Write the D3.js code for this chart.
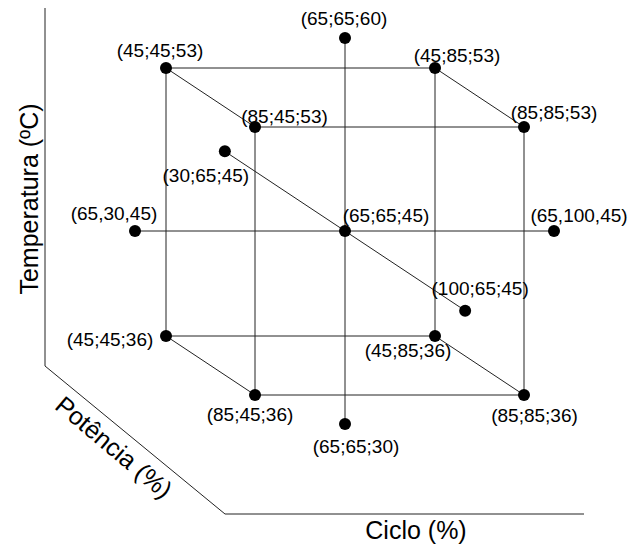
<!DOCTYPE html>
<html>
<head>
<meta charset="utf-8">
<script src="https://cdn.jsdelivr.net/npm/d3@7"></script>
<style>
  html, body { margin: 0; padding: 0; background: #fff; }
  svg { display: block; }
  text { font-family: "Liberation Sans", Arial, sans-serif; fill: #000; }
</style>
</head>
<body>
<svg id="chart" width="628" height="547"></svg>
<script>
// ---- data: experimental design points (Potência ; Ciclo ; Temperatura)
const potencia    = [45, 85, 45, 85, 45, 85, 45, 85, 65, 65, 65, 30, 100, 65, 65];
const ciclo       = [45, 45, 85, 85, 45, 45, 85, 85, 65, 30, 100, 65, 65, 65, 65];
const temperatura = [53, 53, 53, 53, 36, 36, 36, 36, 45, 45, 45, 45, 45, 60, 30];
const pointLabels = ["(45;45;53)", "(85;45;53)", "(45;85;53)", "(85;85;53)",
                     "(45;45;36)", "(85;45;36)", "(45;85;36)", "(85;85;36)",
                     "(65;65;45)", "(65,30,45)", "(65,100,45)", "(30;65;45)",
                     "(100;65;45)", "(65;65;60)", "(65;65;30)"];
// level sets (star, cube, center)
const potenciaLevels    = [30, 45, 65, 85, 100];
const cicloLevels       = [30, 45, 65, 85, 100];
const temperaturaLevels = [30, 36, 45, 53, 60];
const axisTitles = { x: "Ciclo (%)", y: "Temperatura (ºC)", z: "Potência (%)" };

// ---- layout (schematic projection)
const labelOffsets = [
  [-6, -11], [29.5, -4], [22, -6], [30, -8],
  [-56, 10], [-5, 26], [-27, 21], [10.5, 27],
  [41, -9], [-21, -11], [25, -9], [-19, 31],
  [15, -16], [-1, -13], [11, 29]
];

const svg = d3.select("#chart");

const xCiclo = d3.scaleLinear().domain(cicloLevels).range([135, 210.5, 345, 479.5, 554]);
const yTemp  = d3.scaleLinear().domain(temperaturaLevels).range([424, 365.5, 231, 97.5, 38]);
const tPot   = d3.scaleLinear().domain(potenciaLevels).range([-2.7, -1, 0, 1, 2.7]);
const diag = [44.5, 29.5];

const pts = potencia.map((p, i) => ({
  p, c: ciclo[i], t: temperatura[i], label: pointLabels[i], off: labelOffsets[i],
  x: xCiclo(ciclo[i]) + tPot(p) * diag[0],
  y: yTemp(temperatura[i]) + tPot(p) * diag[1]
}));

// frame (axes)
const frame = [[45, 8], [45, 366], [225, 514], [584, 514]];
svg.append("path")
  .attr("d", d3.line()(frame))
  .attr("fill", "none").attr("stroke", "#222").attr("stroke-width", 1);

// cube edges: cube points differing in exactly one coordinate
const isCube = d => d.p !== 65 && d.c !== 65 && d.t !== 45;
const cube = pts.filter(isCube);
const edges = [];
for (let i = 0; i < cube.length; i++) for (let j = i + 1; j < cube.length; j++) {
  const a = cube[i], b = cube[j];
  const diff = (a.p !== b.p) + (a.c !== b.c) + (a.t !== b.t);
  if (diff === 1) edges.push([a, b]);
}
// star axes through the center
const star = pts.filter(d => !isCube(d));
const axisPairs = [
  star.filter(d => d.c === 65 && d.t === 45 && d.p !== 65),
  star.filter(d => d.p === 65 && d.t === 45 && d.c !== 65),
  star.filter(d => d.p === 65 && d.c === 65 && d.t !== 45)
];
const lines = edges.concat(axisPairs);

svg.append("g").selectAll("line").data(lines).join("line")
  .attr("x1", d => d[0].x).attr("y1", d => d[0].y)
  .attr("x2", d => d[1].x).attr("y2", d => d[1].y)
  .attr("stroke", "#222").attr("stroke-width", 1);

svg.append("g").selectAll("circle").data(pts).join("circle")
  .attr("cx", d => d.x).attr("cy", d => d.y).attr("r", 6).attr("fill", "#000");

svg.append("g").selectAll("text").data(pts).join("text")
  .attr("x", d => d.x + d.off[0]).attr("y", d => d.y + d.off[1])
  .attr("text-anchor", "middle")
  .attr("font-size", 19)
  .text(d => d.label);

// axis titles
svg.append("text").attr("x", 416).attr("y", 539)
  .attr("text-anchor", "middle").attr("font-size", 25).text(axisTitles.x);
svg.append("text").attr("transform", "translate(38,199) rotate(-90)")
  .attr("text-anchor", "middle").attr("font-size", 25).text(axisTitles.y);
svg.append("text").attr("transform", "translate(114,447) rotate(40)")
  .attr("text-anchor", "middle").attr("dominant-baseline", "central")
  .attr("font-size", 25).text(axisTitles.z);
</script>
</body>
</html>
